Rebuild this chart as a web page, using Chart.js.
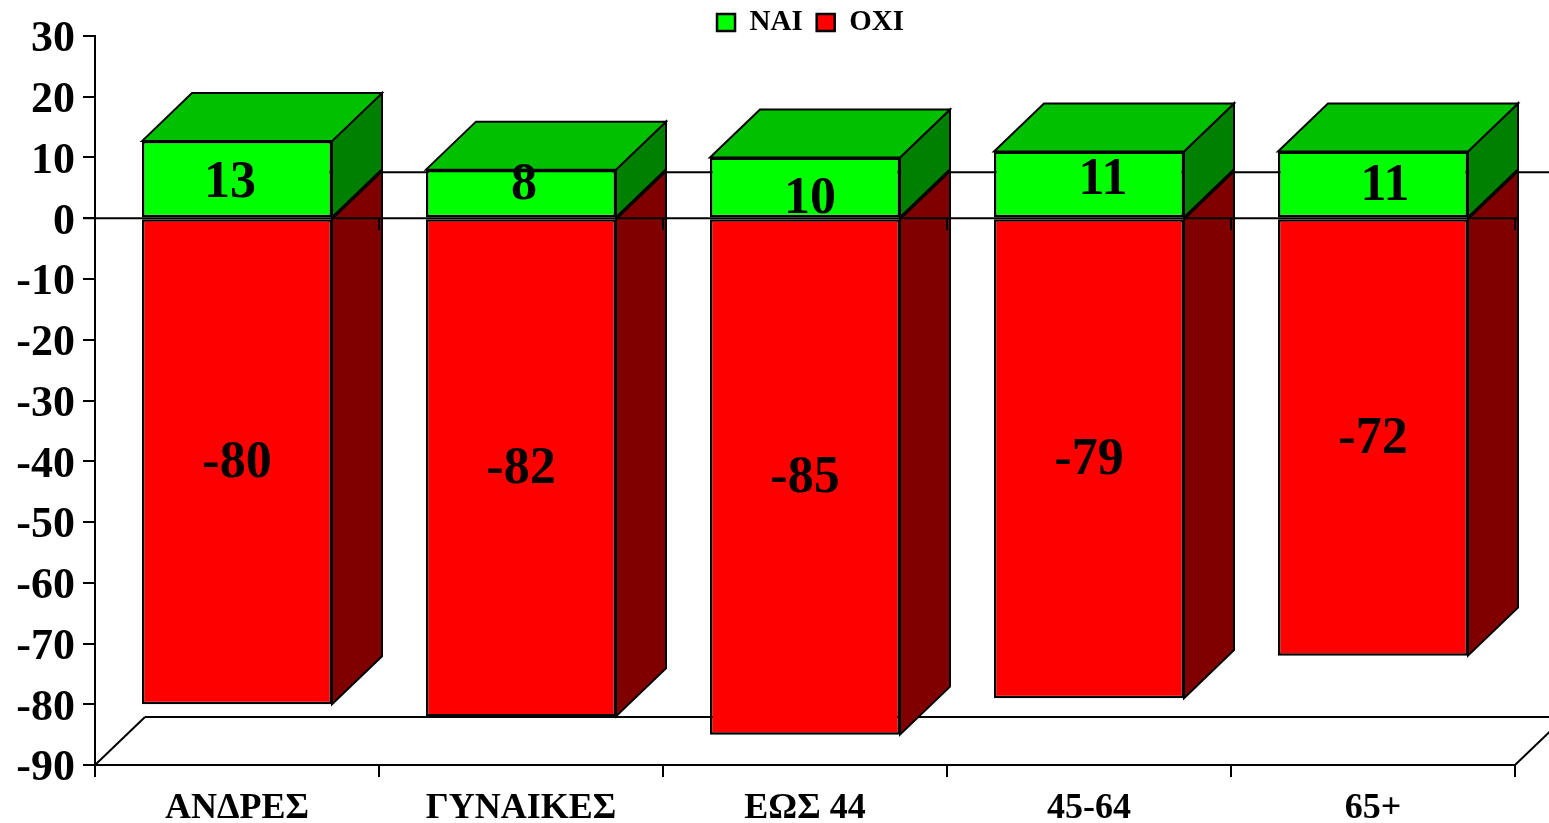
<!DOCTYPE html>
<html>
<head>
<meta charset="utf-8">
<title>ΝΑΙ / ΟΧΙ</title>
<script src="https://cdn.jsdelivr.net/npm/chart.js@4"></script>
<style>
    html, body { margin: 0; padding: 0; background: #fff; overflow: hidden; }
    canvas { display: block; }
</style>
</head>
<body>
<canvas id="voteChart" width="1549" height="823"></canvas>
<script>
const categories = ['ΑΝΔΡΕΣ', 'ΓΥΝΑΙΚΕΣ', 'ΕΩΣ 44', '45-64', '65+'];
const yesValues = [12.7, 8, 10, 11, 11];
const noValues = [-80, -82, -85, -79, -72];

// the green labels were moved by hand in the original
const yesLabelShiftX = [-7, 3, 5, 14, 12];
const yesLabelShiftY = [2, -10, 10, -6, 0];

const FONT = '"Liberation Serif", "Times New Roman", serif';
const DEPTH_X = 50;
const DEPTH_Y = 48;
const WALL_DEPTH_Y = 46;
const LABEL_NUDGE_Y = 2;

function polygon(ctx, points, fill) {
    ctx.beginPath();
    points.forEach((p, i) => i ? ctx.lineTo(p[0], p[1]) : ctx.moveTo(p[0], p[1]));
    ctx.closePath();
    ctx.fillStyle = fill;
    ctx.fill();
    ctx.stroke();
}

function segment(ctx, x1, y1, x2, y2) {
    ctx.beginPath();
    ctx.moveTo(x1, y1);
    ctx.lineTo(x2, y2);
    ctx.stroke();
}

// Floor, back wall line and the side/top faces of the bars
const box3d = {
    id: 'box3d',
    beforeLayout(chart) {
        // lay the legend out in one row although it sits in the chart area
        chart.legend.isHorizontal = () => true;
    },
    afterLayout(chart) {
        // move the legend to where the original had it
        chart.legend.left = 36;
        chart.legend.right = 1585;
        chart.legend.top = -6;
    },
    beforeDatasetsDraw(chart) {
        const { ctx, scales: { x, y } } = chart;
        const zero = y.getPixelForValue(0);
        const backY = py => py === zero ? zero - WALL_DEPTH_Y : py - DEPTH_Y;
        ctx.save();
        ctx.strokeStyle = '#000';
        ctx.lineWidth = 2;

        segment(ctx, x.left, y.bottom, x.left + DEPTH_X, y.bottom - DEPTH_Y);
        segment(ctx, x.left + DEPTH_X, y.bottom - DEPTH_Y, x.right + DEPTH_X, y.bottom - DEPTH_Y);
        segment(ctx, x.right, y.bottom, x.right + DEPTH_X, y.bottom - DEPTH_Y);
        segment(ctx, x.left + DEPTH_X, zero - WALL_DEPTH_Y, x.right + DEPTH_X, zero - WALL_DEPTH_Y);

        const sideColors = ['#008000', '#800000'];
        chart.data.datasets.forEach((ds, d) => {
            chart.getDatasetMeta(d).data.forEach(bar => {
                const l = bar.x - bar.width / 2;
                const r = bar.x + bar.width / 2;
                polygon(ctx, [
                    [r, bar.y], [r + DEPTH_X, backY(bar.y)],
                    [r + DEPTH_X, backY(bar.base)], [r, bar.base]
                ], sideColors[d]);
                if (d === 0) {
                    polygon(ctx, [
                        [l, bar.y], [l + DEPTH_X, bar.y - DEPTH_Y],
                        [r + DEPTH_X, bar.y - DEPTH_Y], [r, bar.y]
                    ], '#00C000');
                }
            });
        });
        ctx.restore();
    },
    afterDatasetsDraw(chart) {
        const { ctx, scales: { x, y } } = chart;
        const zero = y.getPixelForValue(0);
        ctx.save();
        ctx.strokeStyle = '#000';
        ctx.lineWidth = 2;

        // zero line and its small ticks run over the bars
        segment(ctx, x.left - 12, zero, x.right + 2, zero);
        const step = x.width / categories.length;
        for (let i = 0; i <= categories.length; i++) {
            segment(ctx, x.left + i * step, zero, x.left + i * step, zero + 12);
        }

        // value labels
        ctx.fillStyle = '#000';
        ctx.font = 'bold 52px ' + FONT;
        ctx.textAlign = 'center';
        ctx.textBaseline = 'middle';
        chart.data.datasets.forEach((ds, d) => {
            chart.getDatasetMeta(d).data.forEach((bar, i) => {
                const dx = d === 0 ? yesLabelShiftX[i] : 0;
                const dy = d === 0 ? yesLabelShiftY[i] : 0;
                ctx.fillText(Math.round(ds.data[i]), bar.x + dx, (bar.y + bar.base) / 2 + dy + LABEL_NUDGE_Y);
            });
        });
        ctx.restore();
    }
};

new Chart(document.getElementById('voteChart'), {
    type: 'bar',
    data: {
        labels: categories,
        datasets: [
            {
                label: 'ΝΑΙ',
                data: yesValues,
                backgroundColor: '#00FF00',
                borderColor: '#000',
                borderWidth: 2.5,
                borderSkipped: false
            },
            {
                label: 'ΟΧΙ',
                data: noValues,
                backgroundColor: '#FF0000',
                borderColor: '#000',
                borderWidth: 2.5,
                borderSkipped: false
            }
        ]
    },
    options: {
        responsive: false,
        devicePixelRatio: 1,
        animation: false,
        datasets: {
            bar: { categoryPercentage: 1, barPercentage: 0.669 }
        },
        layout: {
            padding: { top: 36, right: 34, left: 0, bottom: 0 }
        },
        plugins: {
            tooltip: { enabled: false },
            legend: {
                position: 'chartArea',
                labels: {
                    boxWidth: 18,
                    boxHeight: 17,
                    padding: 14,
                    color: '#000',
                    font: { family: FONT, size: 29, weight: 'bold' }
                }
            }
        },
        scales: {
            x: {
                stacked: true,
                afterFit(scale) { scale.height = 58; },
                border: { display: true, color: '#000', width: 2 },
                grid: { drawOnChartArea: false, color: '#000', tickColor: '#000', tickLength: 12, lineWidth: 2 },
                ticks: {
                    color: '#000',
                    padding: 10,
                    maxRotation: 0,
                    font: { family: FONT, size: 36, weight: 'bold' }
                }
            },
            y: {
                stacked: true,
                min: -90,
                max: 30,
                afterFit(scale) { scale.width = 95; },
                border: { display: true, color: '#000', width: 2 },
                grid: { drawOnChartArea: false, color: '#000', tickColor: '#000', tickLength: 12, lineWidth: 2 },
                ticks: {
                    stepSize: 10,
                    color: '#000',
                    padding: 8,
                    labelOffset: 4,
                    font: { family: FONT, size: 44, weight: 'bold' }
                }
            }
        }
    },
    plugins: [box3d]
});
</script>
</body>
</html>
